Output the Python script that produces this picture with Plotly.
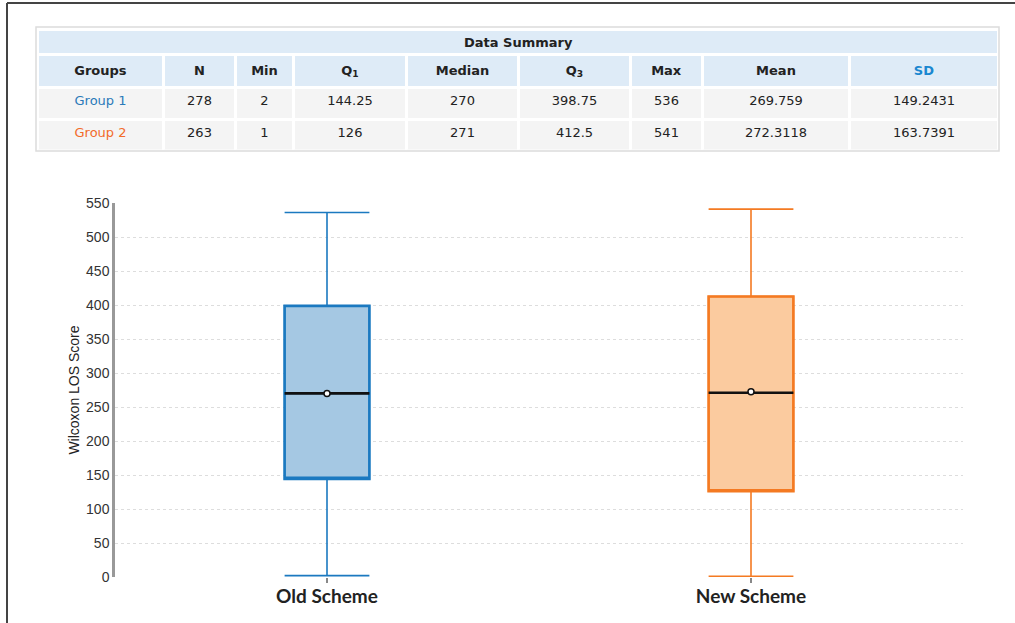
import plotly.graph_objects as go

# ---- data ----
groups = ["Group 1", "Group 2"]
schemes = ["Old Scheme", "New Scheme"]
n_vals = [278, 263]
min_vals = [2, 1]
q1_vals = [144.25, 126]
median_vals = [270, 271]
q3_vals = [398.75, 412.5]
max_vals = [536, 541]
mean_vals = [269.759, 272.3118]
sd_vals = [149.2431, 163.7391]
col_headers = ["Groups", "N", "Min", "Q<sub>1</sub>", "Median", "Q<sub>3</sub>", "Max", "Mean", "SD"]
y_ticks = list(range(0, 551, 50))

W, H = 1015, 623
line_cols = ["#1b79c0", "#f47a22"]
fill_cols = ["#a5c8e3", "#fbcb9f"]
group_text_cols = ["#2a7ab9", "#f26b2a"]


def px_x(p):
    return p / W


def px_y(p):
    return 1 - p / H


fig = go.Figure()

# ---- boxes ----
for i, s in enumerate(schemes):
    fig.add_trace(go.Box(
        x=[s], q1=[q1_vals[i]], median=[median_vals[i]], q3=[q3_vals[i]],
        lowerfence=[min_vals[i]], upperfence=[max_vals[i]],
        width=0.2, whiskerwidth=1, fillcolor=fill_cols[i],
        line=dict(color=line_cols[i], width=1.6), showlegend=False, hoverinfo="skip"))
    fig.add_trace(go.Box(
        x=[s], q1=[q1_vals[i]], median=[q1_vals[i]], q3=[q3_vals[i]],
        lowerfence=[q1_vals[i]], upperfence=[q3_vals[i]],
        width=0.2, whiskerwidth=0, fillcolor="rgba(0,0,0,0)",
        line=dict(color=line_cols[i], width=2.6), showlegend=False, hoverinfo="skip"))
    fig.add_trace(go.Box(
        x=[s], q1=[median_vals[i]], median=[median_vals[i]], q3=[median_vals[i]],
        lowerfence=[median_vals[i]], upperfence=[median_vals[i]],
        width=0.2, whiskerwidth=0, fillcolor="rgba(0,0,0,0)",
        line=dict(color="#111111", width=2.6), showlegend=False, hoverinfo="skip"))

fig.add_trace(go.Scatter(
    x=schemes, y=mean_vals, mode="markers", showlegend=False, hoverinfo="skip",
    marker=dict(color="white", size=6, line=dict(color="#111111", width=1.5))))

# ---- table ----
header_font_cols = ["#222222"] * 8 + ["#1a87d0"]
cell_values = [
    groups,
    [str(v) for v in n_vals],
    [str(v) for v in min_vals],
    [str(v) for v in q1_vals],
    [str(v) for v in median_vals],
    [str(v) for v in q3_vals],
    [str(v) for v in max_vals],
    [str(v) for v in mean_vals],
    [str(v) for v in sd_vals],
]
cell_font_cols = [group_text_cols] + [["#222222", "#222222"]] * 8
fig.add_trace(go.Table(
    domain=dict(x=[px_x(37.5), px_x(998.5)], y=[px_y(150), px_y(54.5)]),
    columnwidth=[126, 72, 58, 113, 112, 112, 72, 147, 149],
    header=dict(values=["<b>%s</b>" % h for h in col_headers], fill_color="#deebf7",
                height=30, line=dict(color="white", width=3), align="center",
                font=dict(family="DejaVu Sans", size=13, color=header_font_cols)),
    cells=dict(values=cell_values, fill_color="#f4f4f4", height=32,
               line=dict(color="white", width=3), align="center",
               font=dict(family="DejaVu Sans", size=13, color=cell_font_cols)),
))

# ---- layout ----
fig.update_layout(
    width=W, height=H,
    margin=dict(l=0, r=0, t=0, b=0, autoexpand=False),
    paper_bgcolor="white", plot_bgcolor="white",
    showlegend=False,
    xaxis=dict(domain=[px_x(115), px_x(963)], type="category", range=[-0.5, 1.5],
               automargin=False,
               showgrid=False, zeroline=False, showline=False,
               ticks="outside", ticklen=5, tickwidth=2, tickcolor="#888888",
               ticklabelstandoff=-3,
               tickfont=dict(family="Lato", size=19, color="#222222"),
               tickprefix="<b>", ticksuffix="</b>"),
    yaxis=dict(domain=[px_y(577), px_y(203)], range=[0, 550], automargin=False,
               tickvals=y_ticks, showgrid=True, gridcolor="#dddddd", griddash="dot",
               zeroline=False, showline=True, linecolor="#999999", linewidth=2.5,
               ticks="", tickfont=dict(family="Liberation Sans", size=14, color="#333333"),
               title=dict(text="Wilcoxon LOS Score", standoff=4,
                          font=dict(family="Liberation Sans", size=14, color="#222222"))),
    shapes=[
        dict(type="rect", xref="paper", yref="paper", x0=px_x(39), x1=px_x(997),
             y0=px_y(53), y1=px_y(31), line=dict(width=0),
             fillcolor="#deebf7", layer="below"),
        dict(type="rect", xref="paper", yref="paper", x0=px_x(36), x1=px_x(999),
             y0=px_y(151), y1=px_y(27), line=dict(color="#dcdcdc", width=1.5),
             fillcolor="rgba(0,0,0,0)", layer="above"),
        dict(type="line", xref="paper", yref="paper", x0=px_x(7), x1=1,
             y0=px_y(3), y1=px_y(3), line=dict(color="#444444", width=2)),
        dict(type="line", xref="paper", yref="paper", x0=px_x(7), x1=px_x(7),
             y0=px_y(3), y1=0, line=dict(color="#444444", width=2)),
    ],
    annotations=[
        dict(text="<b>Data Summary</b>", xref="paper", yref="paper",
             x=px_x(518), y=px_y(42.5), showarrow=False,
             xanchor="center", yanchor="middle",
             font=dict(family="DejaVu Sans", size=13, color="#222222")),
    ],
)

fig.write_html("out.html")
